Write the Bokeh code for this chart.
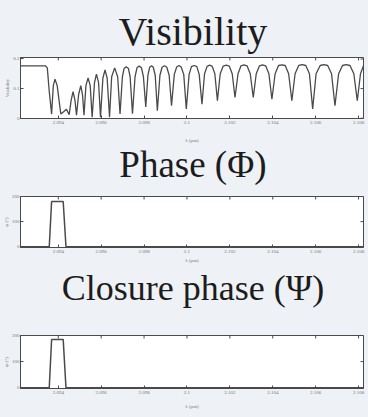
import math
from bokeh.plotting import figure
from bokeh.models import Range1d, FixedTicker
from bokeh.core.properties import value
from bokeh.layouts import column
from bokeh.embed import file_html
from bokeh.resources import INLINE

# ---------------- data ----------------
x_tick_vals = [2.094, 2.096, 2.098, 2.100, 2.102, 2.104, 2.106, 2.108]
x_tick_labels = ["2.094", "2.096", "2.098", "2.1", "2.102", "2.104", "2.106", "2.108"]
x_min, x_max = 2.09224, 2.10823

vis_ticks = [0, 0.1, 0.2]
phase_ticks = [0, 100, 200]
cp_ticks = [0, 100, 200]

wl_vis = [
    2.09224, 2.09340, 2.09349, 2.09358, 2.09369, 2.09377, 2.09385, 2.09395,
    2.09412, 2.09425, 2.09438, 2.09451, 2.09460, 2.09469, 2.09478, 2.09485,
    2.09495, 2.09505, 2.09513, 2.09520, 2.09529, 2.09539, 2.09549, 2.09558,
    2.09569, 2.09578, 2.09588, 2.09597, 2.09608, 2.09618, 2.09628, 2.09639,
    2.09649, 2.09663, 2.09677, 2.09688, 2.09699, 2.09707, 2.09717, 2.09727,
    2.09735, 2.09746,
    2.09758, 2.09767, 2.09777, 2.09788, 2.09797, 2.09808,
    2.09818, 2.09826, 2.09835, 2.09843, 2.09852, 2.09862,
    2.09874, 2.09884, 2.09895, 2.09906, 2.09917, 2.09928,
    2.09941, 2.09952, 2.09963, 2.09973, 2.09985, 2.09997,
    2.10010, 2.10021, 2.10034, 2.10046, 2.10057, 2.10070,
    2.10082, 2.10094, 2.10106, 2.10118, 2.10130, 2.10142,
    2.10155, 2.10169, 2.10183, 2.10197, 2.10211, 2.10224,
    2.10238, 2.10252, 2.10266, 2.10280, 2.10295, 2.10309,
    2.10323, 2.10338, 2.10352, 2.10367, 2.10382, 2.10396,
    2.10411, 2.10427, 2.10442, 2.10458, 2.10474, 2.10489,
    2.10504, 2.10521, 2.10537, 2.10554, 2.10571, 2.10586,
    2.10602, 2.10621, 2.10638, 2.10656, 2.10674, 2.10690,
    2.10707, 2.10725, 2.10742, 2.10760, 2.10778, 2.10794,
    2.10809, 2.10823,
]
visibility = [
    0.177, 0.177, 0.170, 0.090, 0.014, 0.110, 0.132, 0.110,
    0.014, 0.022, 0.030, 0.012, 0.060, 0.090, 0.060, 0.010,
    0.080, 0.110, 0.080, 0.010, 0.110, 0.136, 0.110, 0.003,
    0.120, 0.149, 0.120, 0.003, 0.135, 0.163, 0.135, 0.003,
    0.140, 0.170, 0.140, 0.014, 0.140, 0.168, 0.174, 0.168,
    0.140, 0.015,
    0.140, 0.170, 0.176, 0.170, 0.140, 0.038,
    0.145, 0.172, 0.177, 0.172, 0.145, 0.025,
    0.145, 0.172, 0.177, 0.172, 0.145, 0.042,
    0.148, 0.173, 0.178, 0.173, 0.148, 0.031,
    0.148, 0.174, 0.178, 0.174, 0.148, 0.047,
    0.150, 0.175, 0.179, 0.175, 0.150, 0.059,
    0.150, 0.176, 0.179, 0.176, 0.150, 0.070,
    0.150, 0.177, 0.180, 0.177, 0.150, 0.070,
    0.150, 0.177, 0.180, 0.177, 0.150, 0.064,
    0.150, 0.178, 0.180, 0.178, 0.150, 0.059,
    0.150, 0.178, 0.181, 0.178, 0.150, 0.031,
    0.150, 0.178, 0.181, 0.178, 0.150, 0.042,
    0.150, 0.178, 0.181, 0.178, 0.150, 0.059,
    0.150, 0.177,
]

wl_phase = [2.09224, 2.09358, 2.09369, 2.09423, 2.09436, 2.10823]
phase = [0, 0, 180, 180, 0, 0]

wl_cp = [2.09224, 2.09358, 2.09369, 2.09423, 2.09436, 2.10823]
closure_phase = [0, 0, 185, 185, 0, 0]

titles = ["Visibility", "Phase (Φ)", "Closure phase (Ψ)"]

# ---------------- style ----------------
BG = "#eef1f5"
INK = "#4a4a4a"
TXT = "#777777"
W = 368


def make_title(text, height, middle_from_bottom, size):
    t = figure(width=W, height=height, output_backend="svg", toolbar_location=None,
               x_range=Range1d(0, W), y_range=Range1d(0, height),
               min_border=0, background_fill_color=BG, border_fill_color=BG)
    t.axis.visible = False
    t.grid.visible = False
    t.outline_line_color = None
    t.text(x=[W / 2 + 1], y=[middle_from_bottom], text=[text],
           text_align="center", text_baseline="middle",
           text_font=value("Liberation Serif"), text_font_size=size,
           text_color="#1c1c1c")
    return t


def make_panel(height, bottom, y_range, y_ticks, y_label, x_label_standoff):
    p = figure(width=W, height=height, output_backend="svg", toolbar_location=None,
               x_range=Range1d(x_min, x_max), y_range=Range1d(*y_range),
               min_border_left=10, min_border_right=5,
               min_border_top=2, min_border_bottom=bottom,
               background_fill_color="white", border_fill_color=BG)
    p.outline_line_color = INK
    p.outline_line_width = 1
    p.grid.visible = False

    p.xaxis.ticker = FixedTicker(ticks=x_tick_vals)
    p.xaxis.major_label_overrides = {v: l for v, l in zip(x_tick_vals, x_tick_labels)}
    p.yaxis.ticker = FixedTicker(ticks=y_ticks)
    for ax in (p.xaxis, p.yaxis):
        ax.major_tick_in = 3
        ax.major_tick_out = 0
        ax.minor_tick_in = 0
        ax.minor_tick_out = 0
        ax.axis_line_color = INK
        ax.major_tick_line_color = INK
        ax.major_label_text_font = "Liberation Serif"
        ax.major_label_text_font_size = "5px"
        ax.major_label_text_color = TXT
        ax.major_label_standoff = 2
        ax.axis_label_text_font = "Liberation Serif"
        ax.axis_label_text_font_size = "5px"
        ax.axis_label_text_font_style = "normal"
        ax.axis_label_text_color = TXT
        ax.axis_label_standoff = 1
    p.yaxis.major_label_standoff = 1
    p.yaxis.axis_label_standoff = 0
    p.xaxis.axis_label = "λ (μm)"
    p.xaxis.axis_label_standoff = x_label_standoff
    p.yaxis.axis_label = y_label

    # box ticks on the top and right edges (half of each dash is clipped by the frame)
    p.scatter(x_tick_vals, [y_range[1]] * len(x_tick_vals), marker="dash",
              angle=math.pi / 2, size=6, line_color=INK, line_width=1)
    p.scatter([x_max] * len(y_ticks), y_ticks, marker="dash",
              size=6, line_color=INK, line_width=1)
    return p


t1 = make_title(titles[0], 55, 23.6, "40px")
p1 = make_panel(90, 26, (-0.001, 0.205), vis_ticks, "Visibility", 11)
p1.line(wl_vis, visibility, line_color=INK, line_width=1.3)

t2 = make_title(titles[1], 49, 30.5, "37px")
p2 = make_panel(71, 15, (-3, 200), phase_ticks, "φ (°)", 2)
p2.line(wl_phase, phase, line_color=INK, line_width=1.5)

t3 = make_title(titles[2], 68, 46, "36px")
p3 = make_panel(84, 29, (-3, 200), cp_ticks, "ψ (°)", 7)
p3.line(wl_cp, closure_phase, line_color=INK, line_width=1.5)

layout = column(t1, p1, t2, p2, t3, p3, spacing=0, background=BG)

open("out.html", "w").write(file_html(layout, INLINE))
